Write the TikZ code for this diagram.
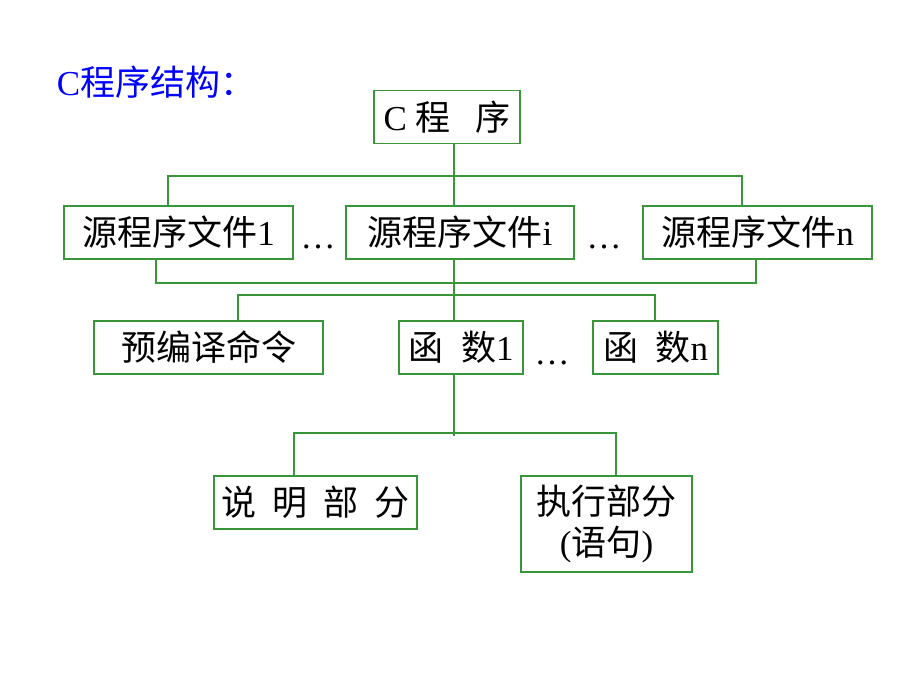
\documentclass[tikz,border=0pt]{standalone}
\usepackage{fontspec}
\setmainfont{Liberation Serif}
\newfontfamily\cjk{Noto Sans CJK SC}
\definecolor{linegreen}{RGB}{56,150,56}
\definecolor{titleblue}{RGB}{0,0,255}

\begin{document}
\begin{tikzpicture}[x=1pt,y=-1pt,
  every node/.style={font=\fontsize{35}{41}\selectfont},
  box/.style={draw=linegreen, line width=1.2pt, fill=white, inner sep=0pt, minimum height=53pt},
  link/.style={draw=linegreen, line width=1.2pt}]
\useasboundingbox (0,0) rectangle (920,690);
\node[text=titleblue] (title) at (156,82) {C{\cjk 程序结构：}};
\node[box, minimum width=146pt] (prog) at (447,117) {C {\cjk 程\hspace{0.7em}序}};
\node[box, minimum width=229pt] (src1) at (178.5,232.5) {{\cjk 源程序文件}1};
\node[box, minimum width=228pt] (srci) at (460,232.5) {{\cjk 源程序文件}i};
\node[box, minimum width=229pt] (srcn) at (757.5,232.5) {{\cjk 源程序文件}n};
\node[anchor=base] (dots1) at (318,248) {\ldots};
\node[anchor=base] (dots2) at (604,248) {\ldots};
\node[box, minimum width=229pt] (pre) at (208.5,347.5) {{\cjk 预编译命令}};
\node[box, minimum width=124pt] (fun1) at (461,347.5) {{\cjk 函\hspace{0.5em}数}1};
\node[box, minimum width=125pt] (funn) at (655.5,347.5) {{\cjk 函\hspace{0.5em}数}n};
\node[anchor=base] (dots3) at (552,364) {\ldots};
\node[box, minimum width=203pt] (decl) at (315.5,502.5) {{\cjk 说\hspace{0.45em}明\hspace{0.45em}部\hspace{0.45em}分}};
\node[box, minimum width=171pt, minimum height=96pt, align=center] (exec) at (606.5,524) {{\cjk 执行部分}\\({\cjk 语句})};
\coordinate (s) at (454,0);
\coordinate (sEnd) at (454,436);
\coordinate (t1) at (168,176);
\coordinate (t2) at (742,176);
\coordinate (m1) at (156,283);
\coordinate (m2) at (756,283);
\coordinate (f1) at (238,295);
\coordinate (f2) at (655,295);
\coordinate (d1) at (294,433);
\coordinate (d2) at (616,433);
\draw[link] (prog.south -| s) -- (srci.north -| s);
\draw[link] (srci.south -| s) -- (fun1.north -| s);
\draw[link] (fun1.south -| s) -- (sEnd);
\draw[link] (src1.north -| t1) |- (t2) -- (srcn.north -| t2);
\draw[link] (src1.south -| m1) |- (m2) -- (srcn.south -| m2);
\draw[link] (pre.north -| f1) |- (f2) -- (funn.north -| f2);
\draw[link] (decl.north -| d1) |- (d2) -- (exec.north -| d2);
\end{tikzpicture}
\end{document}
